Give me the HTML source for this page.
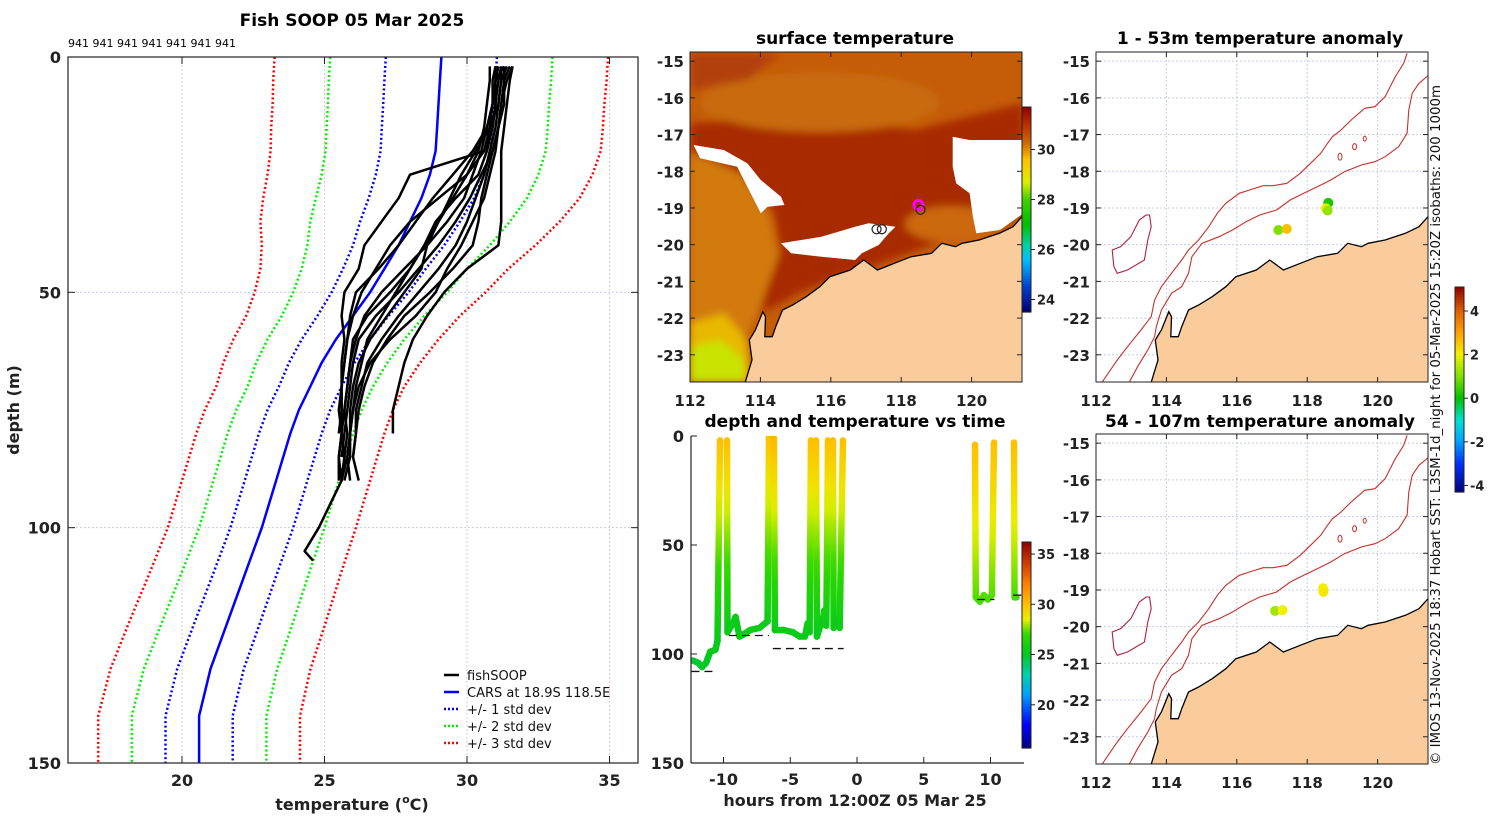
<!DOCTYPE html>
<html><head><meta charset="utf-8"><style>
html,body{margin:0;padding:0;background:#fff;}
svg{display:block;font-family:"DejaVu Sans","Liberation Sans",sans-serif;}
.tk{font-weight:bold;font-size:16px;fill:#222;}
.tt{font-weight:bold;font-size:17px;fill:#000;}
.mt{font-weight:bold;font-size:15px;fill:#222;}
.cb{font-weight:bold;font-size:13px;fill:#222;}
</style></head><body>
<svg id="fig" width="1500" height="820" viewBox="0 0 1500 820" xmlns="http://www.w3.org/2000/svg">
<defs>
<clipPath id="clipL"><rect x="68" y="57" width="570" height="706"/></clipPath>
<clipPath id="clipM"><rect x="0" y="0" width="332" height="330"/></clipPath>
<clipPath id="clipT"><rect x="691" y="436" width="333" height="327"/></clipPath>
<filter id="blur3"><feGaussianBlur stdDeviation="4"/></filter>
</defs>

<!-- Left chart -->
<g>
<text class="tt" x="352" y="26" text-anchor="middle">Fish SOOP 05 Mar 2025</text>
<text x="68" y="47" font-size="11" fill="#000">941 941 941 941 941 941 941</text>
<g id="gridL"></g>
<g id="cars" clip-path="url(#clipL)"></g>
<g id="fish" clip-path="url(#clipL)"></g>
<rect x="68" y="57" width="570" height="706" fill="none" stroke="#222" stroke-width="1.2"/>
<g id="ticksL"></g>
<text class="tk" x="352" y="810" text-anchor="middle">temperature (<tspan font-size="11" dy="-7">o</tspan><tspan dy="7">C)</tspan></text>
<text class="tk" transform="translate(19,410) rotate(-90)" text-anchor="middle">depth (m)</text>
<g font-size="13" fill="#111">
<g><line x1="444" y1="675" x2="459" y2="675" stroke="#000" stroke-width="2.5"/><text x="467" y="680">fishSOOP</text></g>
<g><line x1="444" y1="692" x2="459" y2="692" stroke="#0000ff" stroke-width="2.5"/><text x="467" y="697">CARS at 18.9S 118.5E</text></g>
<g><line x1="444" y1="709" x2="459" y2="709" stroke="#0000ff" stroke-width="2.5" stroke-dasharray="2 2"/><text x="467" y="714">+/- 1 std dev</text></g>
<g><line x1="444" y1="726" x2="459" y2="726" stroke="#00ee00" stroke-width="2.5" stroke-dasharray="2 2"/><text x="467" y="731">+/- 2 std dev</text></g>
<g><line x1="444" y1="743" x2="459" y2="743" stroke="#ff0000" stroke-width="2.5" stroke-dasharray="2 2"/><text x="467" y="748">+/- 3 std dev</text></g>
</g>
</g>

<!-- Surface temperature map -->
<g>
<text class="tt" x="855" y="44" text-anchor="middle">surface temperature</text>
<g transform="translate(690,52)" id="sstMap"></g>
<g id="sstCb"></g>
</g>

<!-- time plot -->
<g>
<text class="tt" x="855" y="427" text-anchor="middle">depth and temperature vs time</text>
<g id="timeplot"></g>
<text class="tk" x="855" y="806" text-anchor="middle">hours from 12:00Z 05 Mar 25</text>
<g id="timeCb"></g>
</g>

<!-- anomaly maps -->
<g>
<text class="tt" x="1260" y="44" text-anchor="middle">1 - 53m temperature anomaly</text>
<g transform="translate(1096,52)" id="anom1"></g>
</g>
<g>
<text class="tt" x="1260" y="427" text-anchor="middle">54 - 107m temperature anomaly</text>
<g transform="translate(1096,434)" id="anom2"></g>
</g>
<g id="anomCb"></g>
<text transform="translate(1440,425) rotate(-90)" text-anchor="middle" font-size="13.5" fill="#111" textLength="680" lengthAdjust="spacingAndGlyphs">© IMOS 13-Nov-2025 18:37 Hobart SST: L3SM-1d_night for 05-Mar-2025 15:20Z isobaths: 200  1000m</text>
</svg>

<script>
// ---------- data: CARS climatology ----------
const carsDepths=[0,5,10,15,20,25,30,35,40,45,50,55,60,65,70,75,80,90,100,110,120,130,140,150];
const carsMean=[29.1,29.05,29.0,28.95,28.9,28.7,28.4,28.0,27.6,27.1,26.6,26.0,25.4,24.9,24.5,24.1,23.8,23.3,22.8,22.2,21.6,21.0,20.6,20.6];
const carsStd=[1.95,1.95,1.94,1.94,1.93,1.9,1.85,1.75,1.6,1.45,1.35,1.25,1.2,1.15,1.1,1.1,1.1,1.1,1.1,1.12,1.15,1.17,1.18,1.18];
// ---------- data: fishSOOP profiles ----------
const fishDepths=[2,5,10,15,20,25,30,35,40,45,50,55,60,65,70,75,80,85,90,95,100,105,107];
const fish1=[31.2,31.1,31.0,30.9,30.7,30.4,29.6,28.9,28.5,28.0,27.3,26.5,26.0,25.9,25.8,25.7,25.8,25.7,25.6];
const fish2=[31.3,31.0,31.0,30.9,30.6,28.0,27.6,27.0,26.4,26.2,25.7,25.6,25.7,25.6,25.6,25.6,25.6,25.5,25.6];
const fish3=[31.6,31.5,31.4,31.3,31.2,31.2,31.2,31.2,31.1,30.0,29.2,28.6,28.1,27.8,27.6,27.4,27.4];
const fish4=[31.4,31.2,31.1,30.8,30.3,29.8,29.4,29.0,28.5,28.0,27.5,27.0,26.5,26.3,26.1,26.0,25.9,25.8,25.6,25.2,24.8,24.3,24.6];
const fish5=[31.0,30.9,30.9,30.7,30.2,29.5,28.8,28.2,27.6,26.9,26.1,25.9,25.8,25.7,25.6,25.5,25.6,25.5,25.5];
const fish6=[31.5,31.3,31.3,31.1,30.9,30.5,30.1,29.6,29.0,28.3,27.6,26.8,26.2,26.0,25.9,25.8,25.7,25.6];
const fish7=[30.8,30.8,30.7,30.6,30.4,30.0,29.5,29.0,28.6,28.4,27.8,27.2,26.6,26.2,26.0,25.9,25.9,25.8,25.9];
const fish8=[31.2,31.2,31.1,31.0,30.8,30.6,30.3,30.0,29.6,29.0,28.3,27.6,27.0,26.5,26.3,26.1,26.1,26.0,26.2];
const fish9=[31.6,31.4,31.2,31.1,31.0,30.8,30.6,30.2,29.8,29.3,28.9,28.2,27.3,26.6,26.2,26.0,25.9,25.9,25.7];
const fish10=[31.0,31.0,30.9,30.8,30.6,30.0,29.0,28.0,27.3,26.8,26.3,26.0,25.8,25.7,25.6,25.6,25.5];
const fish11=[31.3,31.3,31.2,31.1,30.9,30.7,30.5,30.4,30.2,29.5,28.7,27.8,27.2,26.7,26.4,26.2,26.1,26.0];
const fish12=[31.1,31.0,30.9,30.7,30.5,30.2,29.9,29.3,28.6,27.8,27.0,26.4,26.1,25.9,25.8,25.7,25.6,25.7,25.6];
const fishProfiles=[fish1,fish2,fish3,fish4,fish5,fish6,fish7,fish8,fish9,fish10,fish11,fish12];
const tempTicks=[20,25,30,35];
const depthTicks=[0,50,100,150];
// ---------- data: depth vs time ----------
const castHours=[-12.3,-11.9,-11.6,-11.3,-11.0,-10.6,-10.45,-10.26,null,-9.74,-9.7,-9.3,-9.1,-8.8,-8.5,-8.0,-7.3,-6.7,-6.59,null,-6.22,-6.15,-5.5,-4.8,-4.3,-3.9,-3.7,-3.55,-3.45,null,-3.07,-3.0,-2.8,-2.6,-2.45,-2.3,-2.17,null,-1.8,-1.75,-1.5,-1.3,-1.05,null,8.84,8.9,9.2,9.5,9.8,10.1,10.26,null,11.76,11.8,11.95];
const castDepths=[103,104,106,104,99,98,94,2,null,2,90,86,83,92,91,89,88,85,0,null,1,89,89,90,92,92,86,90,2,null,2,92,88,86,80,87,2,null,2,88,84,88,2,null,4,74,76,73,75,73,3,null,3,74,74];
const castTemps=[24.6,24.8,24.8,25.0,25.2,25.3,25.3,30.0,null,30.0,25.4,25.5,25.4,25.4,25.5,25.5,25.5,25.5,30.0,null,30.2,25.4,25.4,25.4,25.4,25.4,25.5,25.4,30.0,null,30.0,25.4,25.5,25.5,25.6,25.5,30.0,null,30.0,25.5,25.5,25.5,30.0,null,30.0,27.3,27.2,27.3,27.2,27.3,30.0,null,30.0,27.2,27.2];
const hourTicks=[-10,-5,0,5,10];
const timeDepthTicks=[0,50,100,150];
const bottomLines=[[-12.4,-10.6,108],[-9.6,-6.6,91.5],[-6.3,-1.0,97.5],[9.0,10.3,75],[11.7,12.4,73]];
// ---------- data: map points ----------
const lonTicks=[112,114,116,118,120];
const latTicks=[-15,-16,-17,-18,-19,-20,-21,-22,-23];
const shallowLon=[118.6,117.18,117.42,118.53,118.58];
const shallowLat=[-18.86,-19.6,-19.57,-19.01,-19.07];
const shallowAnom=[0.2,1.0,2.6,2.0,1.2];
const deepLon=[117.09,117.3,118.45,118.46];
const deepLat=[-19.57,-19.55,-18.95,-19.05];
const deepAnom=[1.3,2.0,2.0,2.1];
const shipLon=[118.49,117.3,117.45,118.55];
const shipLat=[-18.92,-19.58,-19.58,-19.05];
const sstTicks=[24,26,28,30];
const tempCbTicks=[20,25,30,35];
const anomTicks=[-4,-2,0,2,4];

const NS='http://www.w3.org/2000/svg';
function mk(tag,attrs,parent){const e=document.createElementNS(NS,tag);for(const k in attrs)e.setAttribute(k,attrs[k]);if(parent)parent.appendChild(e);return e;}

// ---------- left chart ----------
const tx=T=>182+(T-20)*28.5;
const dy=d=>57+d*4.7067;
const gridL=document.getElementById('gridL');
tempTicks.forEach(t=>{const l=mk('line',{x1:tx(t),x2:tx(t),y1:57,y2:763,stroke:t%10===0?'#c8cce8':'#ecc8c8','stroke-width':1,'stroke-dasharray':'2 2'},gridL);

});
depthTicks.slice(1,3).forEach(d=>{const l=mk('line',{x1:68,x2:638,y1:dy(d),y2:dy(d),stroke:'#c8cce8','stroke-width':1,'stroke-dasharray':'2 2'},gridL);

});
const cars=document.getElementById('cars');
function carsLine(k,color,dash,name){
  const pts=carsDepths.map((d,i)=>tx(carsMean[i]+k*carsStd[i]).toFixed(1)+','+dy(d).toFixed(1)).join(' ');
  const p=mk('polyline',{points:pts,fill:'none',stroke:color,'stroke-width':2.5,'stroke-dasharray':dash},cars);
  
  
}
carsLine(-3,'#ff0000','2 2.5','minus-3-std-line');carsLine(3,'#ff0000','2 2.5','plus-3-std-line');
carsLine(-2,'#00ee00','2 2.5','minus-2-std-line');carsLine(2,'#00ee00','2 2.5','plus-2-std-line');
carsLine(-1,'#0000ff','2 2.5','minus-1-std-line');carsLine(1,'#0000ff','2 2.5','plus-1-std-line');
carsLine(0,'#0000ff','none','cars-mean-line');
const fishG=document.getElementById('fish');
fishProfiles.forEach((prof,j)=>{
  const pts=prof.map((t,i)=>tx(t).toFixed(1)+','+dy(fishDepths[i]).toFixed(1)).join(' ');
  const p=mk('polyline',{points:pts,fill:'none',stroke:'#000','stroke-width':2.5,'stroke-linejoin':'round'},fishG);
  
  
});
const ticksL=document.getElementById('ticksL');
tempTicks.forEach(t=>{
  mk('line',{x1:tx(t),x2:tx(t),y1:763,y2:756,stroke:'#222'},ticksL);
  mk('line',{x1:tx(t),x2:tx(t),y1:57,y2:64,stroke:'#222'},ticksL);
  const s=mk('text',{x:tx(t),y:786,'text-anchor':'middle',class:'tk'},ticksL);s.textContent=t;
  
  
});
depthTicks.forEach(d=>{
  mk('line',{x1:68,x2:75,y1:dy(d),y2:dy(d),stroke:'#222'},ticksL);
  mk('line',{x1:631,x2:638,y1:dy(d),y2:dy(d),stroke:'#222'},ticksL);
  const s=mk('text',{x:61,y:dy(d)+6,'text-anchor':'end',class:'tk'},ticksL);s.textContent=d;
  
  
});

// ---------- colormaps ----------
function hex2rgb(h){return [parseInt(h.substr(1,2),16),parseInt(h.substr(3,2),16),parseInt(h.substr(5,2),16)];}
function cmap(stops,v){
  if(v<=stops[0][0])return stops[0][1];
  for(let i=1;i<stops.length;i++){if(v<=stops[i][0]){const a=stops[i-1],b=stops[i];const f=(v-a[0])/(b[0]-a[0]);const A=hex2rgb(a[1]),B=hex2rgb(b[1]);
    return 'rgb('+A.map((x,k)=>Math.round(x+(B[k]-x)*f)).join(',')+')';}}
  return stops[stops.length-1][1];
}
const tStops=[[15.7,'#000080'],[18,'#0000ff'],[21,'#00a0ff'],[23,'#00d0b0'],[25,'#00c820'],[27,'#30d800'],[28.5,'#e8f000'],[30,'#ffc000'],[32,'#ff8000'],[34,'#d04000'],[36.2,'#900000']];
const sStops=[[23.5,'#00006f'],[24.5,'#0040d0'],[25.6,'#00c0ff'],[26.2,'#00d0a0'],[27,'#00c000'],[28,'#40d000'],[28.7,'#e0f000'],[29.6,'#ffc000'],[30.2,'#d07000'],[31,'#b83000'],[31.7,'#900000']];
const aStops=[[-4.3,'#00007f'],[-3,'#0030ff'],[-2,'#00a0ff'],[-1,'#00e0d0'],[0,'#00c000'],[1,'#80e000'],[2,'#f0f000'],[3,'#ffa000'],[4,'#e06000'],[5.1,'#900000']];

function colorbar(gid,x,y0,y1,vmin,vmax,stops,ticks,name){
  const g=document.getElementById(gid);const n=80;const h=(y1-y0)/n;
  for(let i=0;i<n;i++){const v=vmax-(i+0.5)/n*(vmax-vmin);mk('rect',{x:x,y:y0+i*h,width:9,height:h+0.6,fill:cmap(stops,v)},g);}
  mk('rect',{x:x,y:y0,width:9,height:y1-y0,fill:'none',stroke:'#222','stroke-width':1},g);
  ticks.forEach(t=>{const yy=y1-(t-vmin)/(vmax-vmin)*(y1-y0);
    mk('line',{x1:x+9,x2:x+13,y1:yy,y2:yy,stroke:'#222'},g);
    const s=mk('text',{x:x+15,y:yy+5,class:'cb'},g);s.textContent=t;
    
    });
}
colorbar('sstCb',1022,107,312,23.5,31.7,sStops,sstTicks,'sst-colorbar');
colorbar('timeCb',1022,542,748,15.7,36.2,tStops,tempCbTicks,'time-colorbar');
colorbar('anomCb',1455,287,492,-4.3,5.1,aStops,anomTicks,'anomaly-colorbar');

// ---------- time plot ----------
const hx=h=>857+h*13.35;
const hy=d=>436+d*(327/150);
const tp=document.getElementById('timeplot');
const tg=mk('g',{'clip-path':'url(#clipT)'},tp);
let gid=0;
const defs=document.querySelector('defs');
for(let i=0;i<castHours.length-1;i++){
  if(castHours[i]===null||castHours[i+1]===null)continue;
  const x1=hx(castHours[i]),y1=hy(castDepths[i]),x2=hx(castHours[i+1]),y2=hy(castDepths[i+1]);
  const id='sg'+(gid++);
  const lg=mk('linearGradient',{id:id,gradientUnits:'userSpaceOnUse',x1:x1,y1:y1,x2:x2+0.01,y2:y2},defs);
  for(let k=0;k<=8;k++){const f=k/8;mk('stop',{offset:f,'stop-color':cmap(tStops,castTemps[i]+(castTemps[i+1]-castTemps[i])*f)},lg);}
  const l=mk('line',{x1:x1,y1:y1,x2:x2,y2:y2,stroke:'url(#'+id+')','stroke-width':6.5,'stroke-linecap':'round'},tg);
  
  
}
bottomLines.forEach(b=>{const l=mk('line',{x1:hx(b[0]),x2:hx(b[1]),y1:hy(b[2]),y2:hy(b[2]),stroke:'#111','stroke-width':1.3,'stroke-dasharray':'8 5'},tg);
  
  });
mk('line',{x1:691,x2:691,y1:436,y2:763,stroke:'#222','stroke-width':1.2},tp);
mk('line',{x1:691,x2:1024,y1:763,y2:763,stroke:'#222','stroke-width':1.2},tp);
hourTicks.forEach(h=>{mk('line',{x1:hx(h),x2:hx(h),y1:763,y2:757,stroke:'#222'},tp);
  const s=mk('text',{x:hx(h),y:785,'text-anchor':'middle',class:'tk'},tp);s.textContent=h;
  
  });
timeDepthTicks.forEach(d=>{mk('line',{x1:691,x2:697,y1:hy(d),y2:hy(d),stroke:'#222'},tp);
  const s=mk('text',{x:684,y:hy(d)+6,'text-anchor':'end',class:'tk'},tp);s.textContent=d;
  
  });

// ---------- maps ----------
const W=332,H=330;
const lx=lon=>(lon-112)*35.2;
const ly=lat=>(-14.75-lat)*36.7;
const Z=(a)=>a.map(p=>(p[0]/2.95-16).toFixed(1)+','+(p[1]/3-12).toFixed(1)).join(' ');
const landPts=[[210,1027],[230,960],[222,900],[240,870],[262,815],[270,830],[268,890],[290,890],[300,860],[320,810],[350,795],[390,770],[430,740],[460,710],[520,690],[560,660],[600,690],[650,670],[700,650],[760,640],[790,610],[830,620],[850,610],[900,600],[960,580],[1000,560],[1040,515],[1045,1040],[205,1040]];
const iso1000=[[965,40],[955,70],[930,110],[900,170],[870,200],[840,205],[800,240],[770,270],[745,290],[730,310],[710,340],[680,370],[650,400],[610,430],[570,437],[540,437],[500,450],[470,460],[430,490],[405,520],[380,560],[350,600],[320,630],[300,660],[270,700],[240,740],[220,780],[210,830],[180,870],[140,920],[110,960],[65,1027]];
const iso200=[[1035,100],[1000,130],[980,160],[970,210],[965,280],[940,320],[900,350],[870,365],[830,375],[780,395],[740,420],[700,440],[660,460],[620,480],[580,510],[530,525],[490,545],[450,570],[410,590],[360,610],[330,650],[320,700],[300,740],[270,760],[240,810],[225,860],[220,890],[200,930],[170,980],[145,1027]];
const island=[[205,525],[210,560],[200,600],[190,660],[140,690],[110,700],[100,680],[95,630],[120,620],[150,590],[175,540],[195,525]];

function mapFrame(g,labelsBelow,name){
  const grid=mk('g',{},g);
  lonTicks.forEach(l=>mk('line',{x1:lx(l),x2:lx(l),y1:0,y2:H,stroke:'#c8cce8','stroke-dasharray':'2 2'},grid));
  latTicks.forEach(l=>mk('line',{x1:0,x2:W,y1:ly(l),y2:ly(l),stroke:'#c8cce8','stroke-dasharray':'2 2'},grid));
  return grid;
}
function mapAxes(g,name){
  mk('rect',{x:0,y:0,width:W,height:H,fill:'none',stroke:'#222','stroke-width':1},g);
  lonTicks.forEach(l=>{mk('line',{x1:lx(l),x2:lx(l),y1:H,y2:H-5,stroke:'#222'},g);mk('line',{x1:lx(l),x2:lx(l),y1:0,y2:5,stroke:'#222'},g);
    const s=mk('text',{x:lx(l),y:H+24,'text-anchor':'middle',class:'mt'},g);s.textContent=l;
    
    });
  latTicks.forEach(l=>{mk('line',{x1:0,x2:5,y1:ly(l),y2:ly(l),stroke:'#222'},g);mk('line',{x1:W,x2:W-5,y1:ly(l),y2:ly(l),stroke:'#222'},g);
    const s=mk('text',{x:-6,y:ly(l)+6,'text-anchor':'end',class:'mt'},g);s.textContent=l;
    
    });
}
function land(g,withIso){
  const c=mk('g',{'clip-path':'url(#clipM)'},g);
  if(withIso){
    mk('polyline',{points:Z(iso1000),fill:'none',stroke:'#c8302a','stroke-width':1.1},c);
    mk('polyline',{points:Z(iso200),fill:'none',stroke:'#c8302a','stroke-width':1.1},c);
    mk('polygon',{points:Z(island),fill:'none',stroke:'#b02040','stroke-width':1.1},c);
    mk('ellipse',{cx:(767/2.95-16),cy:(350/3-12),rx:2,ry:3.5,fill:'none',stroke:'#c8302a'},c);
    mk('ellipse',{cx:(810/2.95-16),cy:(320/3-12),rx:2,ry:3,fill:'none',stroke:'#c8302a'},c);
    mk('ellipse',{cx:(840/2.95-16),cy:(296/3-12),rx:1.6,ry:2.4,fill:'none',stroke:'#c8302a'},c);
  }
  const p=mk('polygon',{points:Z(landPts),fill:'#facb9b',stroke:'#000','stroke-width':1.3},c);
  
  
  return c;
}
// SST map raster approximation
const sst=document.getElementById('sstMap');
const sr=mk('g',{'clip-path':'url(#clipM)'},sst);
const S=(a)=>a.map(p=>(p[0]/2.97-10).toFixed(1)+','+(p[1]/3-12).toFixed(1)).join(' ');
mk('rect',{x:0,y:0,width:W,height:H,fill:'#c45c08'},sr);
const tex=mk('g',{filter:'url(#blur3)'},sr);
mk('polygon',{points:S([[30,250],[400,230],[700,270],[1020,190],[1020,520],[880,580],[760,610],[650,650],[540,690],[450,720],[350,760],[280,800],[230,820],[300,640],[280,520],[180,400],[30,330]]),fill:'#a82a02'},tex);
mk('polygon',{points:S([[30,340],[180,400],[260,520],[290,640],[240,800],[200,880],[30,1027],[30,340]]),fill:'#d27a10'},tex);
mk('polygon',{points:S([[30,850],[130,820],[200,900],[210,1027],[30,1027]]),fill:'#e8b800'},tex);
mk('polygon',{points:S([[30,920],[120,900],[190,960],[190,1027],[30,1027]]),fill:'#c8e400'},tex);
mk('ellipse',{cx:260,cy:172,rx:45,ry:18,fill:'#cc6810'},tex);
mk('ellipse',{cx:130,cy:50,rx:120,ry:30,fill:'#c86a10'},tex);
mk('polygon',{points:S([[30,40],[300,40],[200,120],[30,150]]),fill:'#b24008'},tex);
const wp=[[[40,315],[130,330],[200,370],[240,420],[300,470],[310,495],[260,500],[240,520],[215,470],[170,380],[60,355]],
[[300,610],[420,590],[520,560],[560,550],[640,560],[620,580],[590,615],[540,640],[520,660],[420,650],[330,640]],
[[810,290],[860,300],[1020,300],[1020,520],[950,570],[880,580],[870,530],[860,460],[820,430],[810,380]]];
wp.forEach(w=>{const q=mk('polygon',{points:S(w),fill:'#fff'},sr);

});
land(sst,false);
shipLon.forEach((lo,i)=>{const c=mk('circle',{cx:lx(lo),cy:ly(shipLat[i]),r:4.5,fill:'none',stroke:i===0?'#ff00ff':'#222','stroke-width':i===0?3:1.2},sst);

});
mapAxes(sst,'sst-map');

function anomMap(id,lons,lats,vals,name){
  const g=document.getElementById(id);
  mapFrame(g);
  land(g,true);
  lons.forEach((lo,i)=>{const c=mk('circle',{cx:lx(lo),cy:ly(lats[i]),r:5,fill:cmap(aStops,vals[i])},g);
    
    });
  mapAxes(g,name);
}
anomMap('anom1',shallowLon,shallowLat,shallowAnom,'shallow-anomaly');
anomMap('anom2',deepLon,deepLat,deepAnom,'deep-anomaly');
</script>
</body></html>
